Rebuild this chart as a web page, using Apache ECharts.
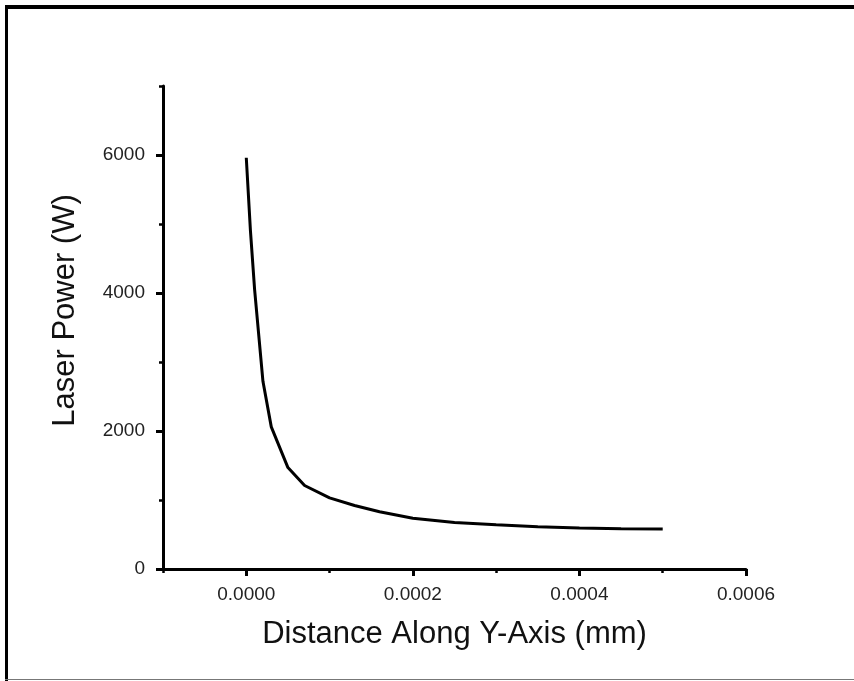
<!DOCTYPE html>
<html>
<head>
<meta charset="utf-8">
<script src="https://cdn.jsdelivr.net/npm/echarts@6/dist/echarts.min.js"></script>
<style>html,body{margin:0;padding:0;background:#fff}#c{width:854px;height:681px}</style>
</head>
<body>
<div id="c"></div>
<script>
const distance = [0, 0.000005, 0.00001, 0.00002, 0.00003, 0.00005, 0.00007, 0.0001, 0.00013, 0.00016, 0.0002, 0.00025, 0.0003, 0.00035, 0.0004, 0.00045, 0.0005];
const power = [5960, 4900, 4050, 2720, 2060, 1470, 1210, 1030, 920, 830, 735, 675, 640, 612, 595, 584, 578];
const xMajorTicks = [0, 0.0002, 0.0004, 0.0006];
const xMinorTicks = [-0.0001, 0.0001, 0.0003, 0.0005];
const yMajorTicks = [0, 2000, 4000, 6000];
const yMinorTicks = [1000, 3000, 5000, 7000];
const xTitle = 'Distance Along Y-Axis (mm)';
const yTitle = 'Laser Power (W)';

const font = 'Liberation Sans, Arial, sans-serif';
const chart = echarts.init(document.getElementById('c'), null, {renderer: 'canvas'});
chart.setOption({
  animation: false,
  backgroundColor: '#fff',
  grid: {left: 163, right: 108, top: 86, bottom: 112, containLabel: false},
  graphic: [
    {type: 'rect', shape: {x: 5, y: 5, width: 849, height: 4}, style: {fill: '#000'}},
    {type: 'rect', shape: {x: 5, y: 5, width: 3, height: 676}, style: {fill: '#000'}},
    {type: 'rect', shape: {x: 5, y: 679, width: 849, height: 1}, style: {fill: '#777'}}
  ],
  xAxis: [
    {
      type: 'value', min: -0.0001, max: 0.0006, position: 'bottom',
      name: xTitle, nameLocation: 'middle', nameGap: 50,
      nameTextStyle: {fontFamily: font, fontSize: 31, color: '#111'},
      axisLine: {show: true, onZero: false, lineStyle: {color: '#000', width: 3}},
      axisTick: {show: true, inside: false, length: 7, lineStyle: {color: '#000', width: 3}, customValues: xMajorTicks},
      axisLabel: {show: true, margin: 16, fontFamily: font, fontSize: 19, color: '#222', customValues: xMajorTicks,
        formatter: v => Number(v).toFixed(4)},
      splitLine: {show: false}
    },
    {
      type: 'value', min: -0.0001, max: 0.0006, position: 'bottom',
      axisLine: {show: false, onZero: false},
      axisTick: {show: true, inside: false, length: 4, lineStyle: {color: '#000', width: 2.5}, customValues: xMinorTicks},
      axisLabel: {show: false},
      splitLine: {show: false}
    }
  ],
  yAxis: [
    {
      type: 'value', min: 0, max: 7000, position: 'left',
      name: yTitle, nameLocation: 'middle', nameGap: 82, nameRotate: 90,
      nameTextStyle: {fontFamily: font, fontSize: 31, color: '#111', padding: [0, 0, 0, 34]},
      axisLine: {show: true, onZero: false, lineStyle: {color: '#000', width: 3}},
      axisTick: {show: true, inside: false, length: 7, lineStyle: {color: '#000', width: 3}, customValues: yMajorTicks},
      axisLabel: {show: true, margin: 18, fontFamily: font, fontSize: 19, color: '#222', customValues: yMajorTicks,
        formatter: v => String(v)},
      splitLine: {show: false}
    },
    {
      type: 'value', min: 0, max: 7000, position: 'left',
      axisLine: {show: false, onZero: false},
      axisTick: {show: true, inside: false, length: 4, lineStyle: {color: '#000', width: 2.5}, customValues: yMinorTicks},
      axisLabel: {show: false},
      splitLine: {show: false}
    }
  ],
  series: [{
    type: 'line',
    xAxisIndex: 0, yAxisIndex: 0,
    data: distance.map((d, i) => [d, power[i]]),
    symbol: 'none',
    smooth: false,
    lineStyle: {color: '#000', width: 3},
    clip: false
  }]
});
</script>
</body>
</html>
